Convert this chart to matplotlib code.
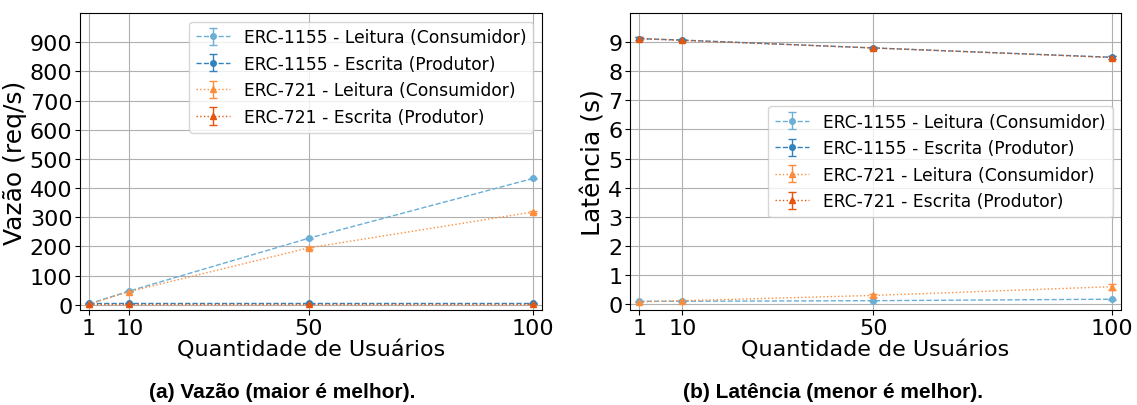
import matplotlib.pyplot as plt
import numpy as np

usuarios = [1, 10, 50, 100]

# vazao (req/s)
vazao_1155_leitura = [3, 47, 228, 433]
vazao_1155_escrita = [5, 5, 5, 5]
vazao_721_leitura = [2, 45, 195, 318]
vazao_721_escrita = [4, 4, 4, 4]
vazao_err_1155_leitura = [0.5, 1.0, 2.0, 3.0]
vazao_err_1155_escrita = [0.2, 0.2, 0.2, 0.2]
vazao_err_721_leitura = [0.5, 1.0, 3.0, 4.0]
vazao_err_721_escrita = [0.2, 0.2, 0.2, 0.2]

# latencia (s)
lat_1155_leitura = [0.10, 0.10, 0.12, 0.17]
lat_1155_escrita = [9.12, 9.07, 8.80, 8.48]
lat_721_leitura = [0.08, 0.12, 0.30, 0.60]
lat_721_escrita = [9.12, 9.06, 8.80, 8.47]
lat_err_1155_leitura = [0.01, 0.01, 0.01, 0.02]
lat_err_1155_escrita = [0.05, 0.03, 0.03, 0.05]
lat_err_721_leitura = [0.01, 0.01, 0.06, 0.10]
lat_err_721_escrita = [0.05, 0.03, 0.03, 0.05]

labels = ['ERC-1155 - Leitura (Consumidor)', 'ERC-1155 - Escrita (Produtor)',
          'ERC-721 - Leitura (Consumidor)', 'ERC-721 - Escrita (Produtor)']
cores = ['#6baed6', '#3182bd', '#fd8d3c', '#e6550d']
marcadores = ['o', 'o', '^', '^']
estilos = ['--', '--', ':', ':']

fig = plt.figure(figsize=(11.37, 4.06), dpi=100)
ax1 = fig.add_axes([0.0704, 0.234, 0.4063, 0.7315])
ax2 = fig.add_axes([0.554, 0.234, 0.432, 0.7315])


def desenha(ax, series, erros):
    for s, e, lab, c, m, ls in zip(series, erros, labels, cores, marcadores, estilos):
        ax.errorbar(usuarios, s, yerr=e, label=lab, color=c, marker=m, linestyle=ls,
                    linewidth=1, markersize=4, capsize=3, elinewidth=1)
    ax.set_xticks(usuarios)
    ax.grid(True, color='#b0b0b0', linewidth=0.8)
    ax.set_xlim(-0.98, 101.98)
    ax.set_xlabel('Quantidade de Usuários', fontsize=16, labelpad=1)
    ax.tick_params(labelsize=16, pad=2)


desenha(ax1, [vazao_1155_leitura, vazao_1155_escrita, vazao_721_leitura, vazao_721_escrita],
        [vazao_err_1155_leitura, vazao_err_1155_escrita, vazao_err_721_leitura, vazao_err_721_escrita])
ax1.set_ylim(-18, 1000)
ax1.set_yticks(np.arange(0, 1000, 100))
ax1.set_ylabel('Vazão (req/s)', fontsize=18, labelpad=2)
ax1.legend(loc='upper right', fontsize=12.3)

desenha(ax2, [lat_1155_leitura, lat_1155_escrita, lat_721_leitura, lat_721_escrita],
        [lat_err_1155_leitura, lat_err_1155_escrita, lat_err_721_leitura, lat_err_721_escrita])
ax2.set_ylim(-0.2, 10)
ax2.set_yticks(np.arange(0, 10, 1))
ax2.set_ylabel('Latência (s)', fontsize=18, labelpad=2)
ax2.legend(loc='center right', fontsize=12.3)

fig.text(0.248, 0.02, '(a) Vazão (maior é melhor).', ha='center', fontsize=15,
         fontweight='bold', family='Liberation Sans')
fig.text(0.733, 0.02, '(b) Latência (menor é melhor).', ha='center', fontsize=15,
         fontweight='bold', family='Liberation Sans')

fig.savefig('out.png', dpi=100)
